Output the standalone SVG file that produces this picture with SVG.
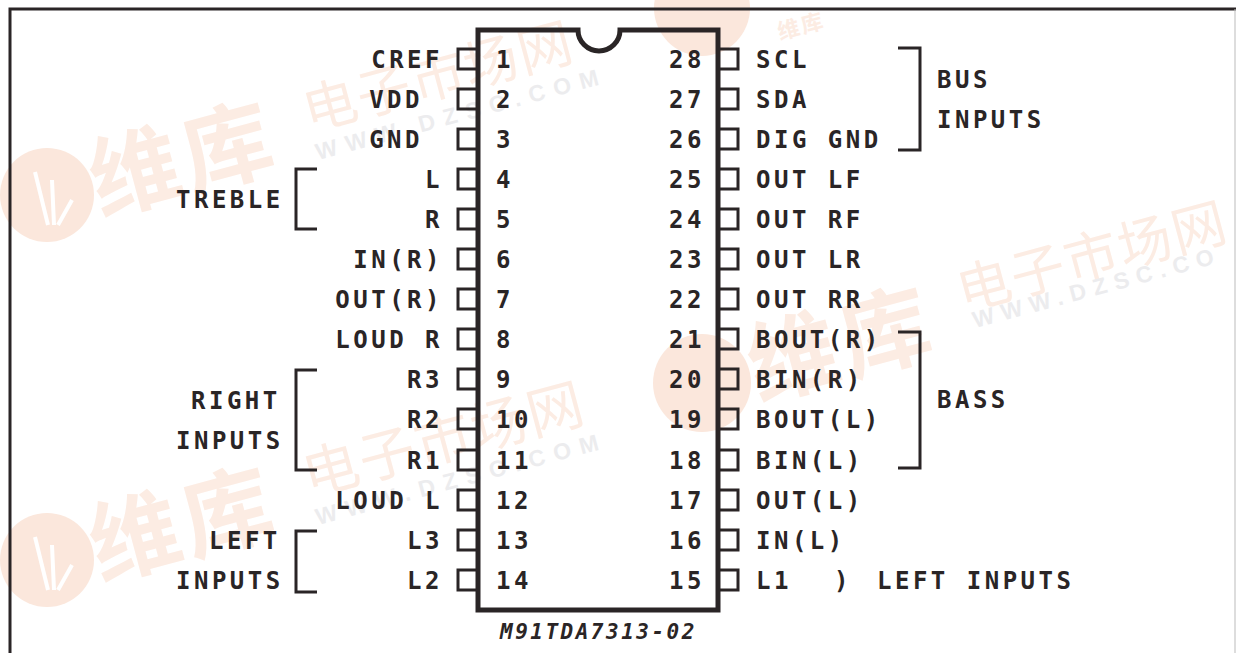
<svg xmlns="http://www.w3.org/2000/svg" width="1236" height="653" viewBox="0 0 1236 653">
<style>
text{font-family:"DejaVu Sans Mono","Liberation Mono",monospace;font-size:24px;font-weight:700;fill:#2a2526;letter-spacing:3.5px}
.e{text-anchor:end}
.i{font-size:21px;font-style:italic;letter-spacing:2.5px}
.l{fill:none;stroke:#2a2526;stroke-width:3}
.c{fill:none;stroke:#2a2526;stroke-width:5}
.p{fill:none;stroke:#2a2526;stroke-width:3}
.wm text{font-family:"Noto Sans CJK SC",sans-serif;font-size:90px;fill:#fcece3;letter-spacing:5px;font-weight:700}
.wm .s{font-size:56px;letter-spacing:2px;font-weight:400}
.wm .r{font-size:54px;letter-spacing:1.5px;font-weight:400}
.wm .t{font-size:22px;letter-spacing:2px}
.wm .w{font-family:"Liberation Sans",sans-serif;font-size:23px;fill:#ececee;letter-spacing:9px}
.wm .x{letter-spacing:7.5px}
.wm circle{fill:#fbe7dc}
.wm path{fill:none;stroke:#fff;stroke-width:4}
</style>
<rect width="1236" height="653" fill="#fff"/>
<g id="watermark" class="wm">
<circle cx="47" cy="195" r="47"/><path d="M35 172L48 225M52 180L54 225M72 200L58 225"/>
<circle cx="47" cy="560" r="47"/><path d="M35 537L48 590M52 545L54 590M72 565L58 590"/>
<circle cx="702" cy="383" r="49"/><circle cx="702" cy="8" r="48"/>
<text transform="translate(100 215) rotate(-15)">维库</text>
<text class="r" transform="translate(309 131) rotate(-15)">电子市场网</text>
<text transform="translate(100 580) rotate(-15)">维库</text>
<text class="s" transform="translate(309 496) rotate(-15)">电子市场网</text>
<text transform="translate(758 400) rotate(-15)">维库</text>
<text class="r" transform="translate(963 311) rotate(-15)">电子市场网</text>
<text class="t" transform="translate(780 40) rotate(-15)">维库</text>
<text class="w" transform="translate(318 160) rotate(-15)">WWW.DZSC.COM</text>
<text class="w" transform="translate(318 525) rotate(-15)">WWW.DZSC.COM</text>
<text class="w x" transform="translate(975 328) rotate(-15)">WWW.DZSC.CO</text>
</g>
<path class="l" d="M10 653V9H1236"/>
<path d="M1235 9V653" fill="none" stroke="#bbb" stroke-width="1"/>
<g id="chip"><path class="c" d="M478 30H578A21 21 0 0 0 620 30H718V610H478Z"/></g>
<g id="connectors">
<path class="l" d="M898 48H920V150H898"/>
<path class="l" d="M317 169H296V229H317"/>
<path class="l" d="M898 332H920V468H898"/>
<path class="l" d="M317 370H296V470H317"/>
<path class="l" d="M317 531H296V592H317"/>
</g>
<g id="pin1"><path class="p" d="M476 49H458V69H476"/><text class="e" x="443" y="68">CREF</text><text x="496" y="68">1</text></g>
<g id="pin2"><path class="p" d="M476 89H458V109H476"/><text class="e" x="423" y="108">VDD</text><text x="496" y="108">2</text></g>
<g id="pin3"><path class="p" d="M476 129H458V149H476"/><text class="e" x="423" y="148">GND</text><text x="496" y="148">3</text></g>
<g id="pin4"><path class="p" d="M476 169H458V189H476"/><text class="e" x="443" y="188">L</text><text x="496" y="188">4</text></g>
<g id="pin5"><path class="p" d="M476 209H458V229H476"/><text class="e" x="443" y="228">R</text><text x="496" y="228">5</text></g>
<g id="pin6"><path class="p" d="M476 249H458V269H476"/><text class="e" x="443" y="268">IN(R)</text><text x="496" y="268">6</text></g>
<g id="pin7"><path class="p" d="M476 289H458V309H476"/><text class="e" x="443" y="308">OUT(R)</text><text x="496" y="308">7</text></g>
<g id="pin8"><path class="p" d="M476 329H458V349H476"/><text class="e" x="443" y="348">LOUD R</text><text x="496" y="348">8</text></g>
<g id="pin9"><path class="p" d="M476 369H458V389H476"/><text class="e" x="443" y="388">R3</text><text x="496" y="388">9</text></g>
<g id="pin10"><path class="p" d="M476 409H458V429H476"/><text class="e" x="443" y="428">R2</text><text x="496" y="428">10</text></g>
<g id="pin11"><path class="p" d="M476 450H458V470H476"/><text class="e" x="443" y="469">R1</text><text x="496" y="469">11</text></g>
<g id="pin12"><path class="p" d="M476 490H458V510H476"/><text class="e" x="443" y="509">LOUD L</text><text x="496" y="509">12</text></g>
<g id="pin13"><path class="p" d="M476 530H458V550H476"/><text class="e" x="443" y="549">L3</text><text x="496" y="549">13</text></g>
<g id="pin14"><path class="p" d="M476 570H458V590H476"/><text class="e" x="443" y="589">L2</text><text x="496" y="589">14</text></g>
<g id="pin28"><path class="p" d="M720 49H738V69H720"/><text class="e" x="705" y="68">28</text><text x="756" y="68">SCL</text></g>
<g id="pin27"><path class="p" d="M720 89H738V109H720"/><text class="e" x="705" y="108">27</text><text x="756" y="108">SDA</text></g>
<g id="pin26"><path class="p" d="M720 129H738V149H720"/><text class="e" x="705" y="148">26</text><text x="756" y="148">DIG GND</text></g>
<g id="pin25"><path class="p" d="M720 169H738V189H720"/><text class="e" x="705" y="188">25</text><text x="756" y="188">OUT LF</text></g>
<g id="pin24"><path class="p" d="M720 209H738V229H720"/><text class="e" x="705" y="228">24</text><text x="756" y="228">OUT RF</text></g>
<g id="pin23"><path class="p" d="M720 249H738V269H720"/><text class="e" x="705" y="268">23</text><text x="756" y="268">OUT LR</text></g>
<g id="pin22"><path class="p" d="M720 289H738V309H720"/><text class="e" x="705" y="308">22</text><text x="756" y="308">OUT RR</text></g>
<g id="pin21"><path class="p" d="M720 329H738V349H720"/><text class="e" x="705" y="348">21</text><text x="756" y="348">BOUT(R)</text></g>
<g id="pin20"><path class="p" d="M720 369H738V389H720"/><text class="e" x="705" y="388">20</text><text x="756" y="388">BIN(R)</text></g>
<g id="pin19"><path class="p" d="M720 409H738V429H720"/><text class="e" x="705" y="428">19</text><text x="756" y="428">BOUT(L)</text></g>
<g id="pin18"><path class="p" d="M720 450H738V470H720"/><text class="e" x="705" y="469">18</text><text x="756" y="469">BIN(L)</text></g>
<g id="pin17"><path class="p" d="M720 490H738V510H720"/><text class="e" x="705" y="509">17</text><text x="756" y="509">OUT(L)</text></g>
<g id="pin16"><path class="p" d="M720 530H738V550H720"/><text class="e" x="705" y="549">16</text><text x="756" y="549">IN(L)</text></g>
<g id="pin15"><path class="p" d="M720 570H738V590H720"/><text class="e" x="705" y="589">15</text><text x="756" y="589">L1</text><text x="834" y="589">)</text><text x="877" y="589">LEFT INPUTS</text></g>
<g id="groups">
<text x="176" y="208">TREBLE</text>
<text x="191" y="409">RIGHT</text><text x="176" y="449">INPUTS</text>
<text x="209" y="549">LEFT</text><text x="176" y="589">INPUTS</text>
<text x="937" y="88">BUS</text><text x="937" y="128">INPUTS</text>
<text x="937" y="408">BASS</text>
</g>
<text id="code" class="i" x="500" y="639">M91TDA7313-02</text>
</svg>
